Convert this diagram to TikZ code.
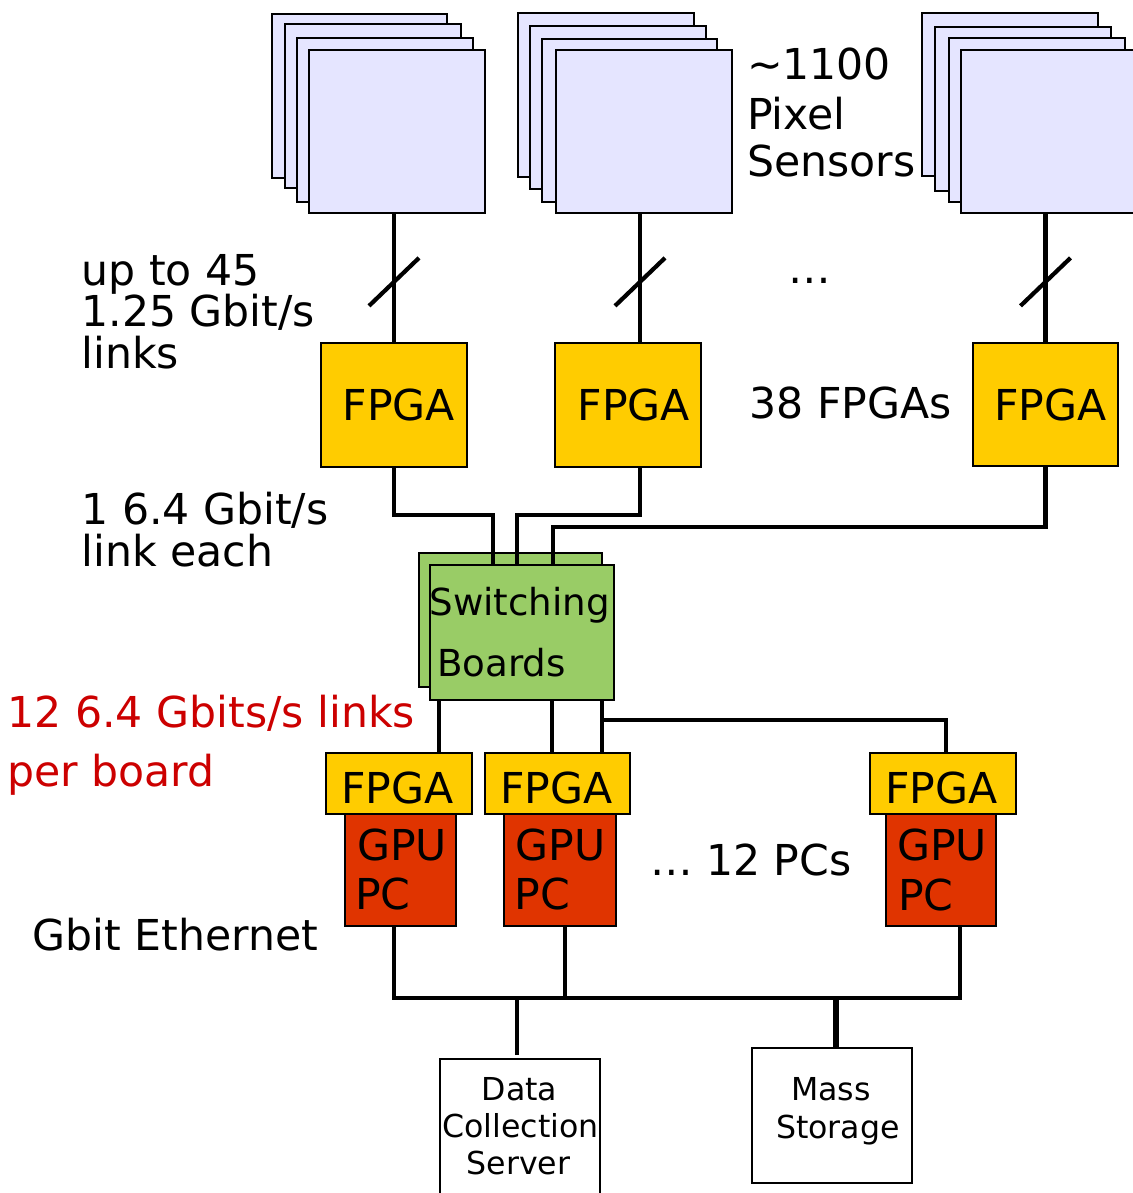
\documentclass[tikz,border=0pt]{standalone}
\usepackage{fontspec}
\setmainfont{DejaVu Sans}
\usetikzlibrary{calc}
\definecolor{sens}{RGB}{229,229,255}
\definecolor{fpgay}{RGB}{255,204,0}
\definecolor{boardg}{RGB}{153,204,102}
\definecolor{gpur}{RGB}{224,52,0}
\definecolor{redtxt}{RGB}{204,0,0}
\newcommand\mybox[6]{\node[#6,minimum width={#4-#2},minimum height={#5-#3}] (#1) at (#2,#3) {};}
\begin{document}
\begin{tikzpicture}[x=1pt,y=-1pt,
  bx/.style={draw, line width=2.3pt, inner sep=0pt, outer sep=0pt, anchor=north west},
  sensor/.style={bx, fill=sens},
  fpga/.style={bx, fill=fpgay},
  board/.style={bx, fill=boardg},
  gpu/.style={bx, fill=gpur},
  plainbox/.style={bx, fill=white},
  conn/.style={line width=4.4pt},
  slashst/.style={line width=4.2pt},
  txt/.style={inner sep=0pt, outer sep=0pt, anchor=base west, font=\fontsize{42.6}{42.6}\selectfont},
  sbtxt/.style={txt, font=\fontsize{37.2}{37.2}\selectfont},
  smtxt/.style={inner sep=0pt, outer sep=0pt, anchor=base, font=\fontsize{31.6}{31.6}\selectfont}]
\useasboundingbox (0,0) rectangle (1132,1193);
\fill[white] (0,0) rectangle (1132,1193);

% sensor stacks
\mybox{s1a}{272}{14}{447}{178}{sensor}
\mybox{s1b}{285}{24}{461}{188}{sensor}
\mybox{s1c}{297}{38}{473}{202}{sensor}
\mybox{s1d}{309}{50}{485}{213}{sensor}
\mybox{s2a}{518}{13}{694}{177}{sensor}
\mybox{s2b}{530}{26}{706}{189}{sensor}
\mybox{s2c}{542}{39}{717}{202}{sensor}
\mybox{s2d}{556}{50}{732}{213}{sensor}
\mybox{s3a}{922}{13}{1098}{176}{sensor}
\mybox{s3b}{935}{27}{1111}{191}{sensor}
\mybox{s3c}{949}{38}{1125}{202}{sensor}
\mybox{s3d}{961}{50}{1137}{213}{sensor}

% upper FPGAs
\mybox{f1}{321}{343}{467}{467}{fpga}
\mybox{f2}{555}{343}{701}{467}{fpga}
\mybox{f3}{973}{343}{1118}{466}{fpga}
\node[txt] (f1t) at (342.5,420) {FPGA};
\node[txt] (f2t) at (577.5,420) {FPGA};
\node[txt] (f3t) at (994,420) {FPGA};

% switching boards
\mybox{sbb}{419}{553}{602}{687}{board}
\mybox{sbf}{430}{565}{614}{700}{board}
\node[sbtxt] (sbt1) at (429.5,615) {Switching};
\node[sbtxt] (sbt2) at (437,676) {Boards};

% lower FPGAs and GPU PCs
\mybox{lf1}{326}{753}{472}{814}{fpga}
\mybox{lf2}{485}{753}{630}{814}{fpga}
\mybox{lf3}{870}{753}{1016}{814}{fpga}
\mybox{g1}{345}{814}{456}{926}{gpu}
\mybox{g2}{504}{814}{616}{926}{gpu}
\mybox{g3}{886}{814}{996}{926}{gpu}
\node[txt] (lf1t) at (341.4,803) {FPGA};
\node[txt] (lf2t) at (500.4,803) {FPGA};
\node[txt] (lf3t) at (885,803) {FPGA};
\node[txt] (g1t) at (357,860) {GPU};
\node[txt] (g1p) at (355,909) {PC};
\node[txt] (g2t) at (515.5,860) {GPU};
\node[txt] (g2p) at (514.7,909) {PC};
\node[txt] (g3t) at (897,860) {GPU};
\node[txt] (g3p) at (898,910) {PC};

% servers
\mybox{dcs}{440}{1059}{600}{1210}{plainbox}
\mybox{ms}{752}{1048}{912}{1183}{plainbox}
\node[smtxt] (dcs1) at (519.5,1100) {Data};
\node[smtxt] (dcs2) at (520.5,1137) {Collection};
\node[smtxt] (dcs3) at (518.5,1174) {Server};
\node[smtxt] (ms1) at (831,1100) {Mass};
\node[smtxt] (ms2) at (838,1138) {Storage};

% sensor -> FPGA links with slash marks
\coordinate (c1) at (f1.north);
\coordinate (c2) at ($(f2.north)+(12,0)$);
\coordinate (c3) at (f3.north);
\draw[conn] (c1) -- (c1 |- s1d.south);
\draw[conn] (c2) -- (c2 |- s2d.south);
\draw[conn] (c3) -- (c3 |- s3d.south);
\coordinate (m1) at ($(c1)!0.47!(c1 |- s1d.south)$);
\coordinate (m2) at ($(c2)!0.47!(c2 |- s2d.south)$);
\coordinate (m3) at ($(c3)!0.47!(c3 |- s3d.south)$);
\draw[slashst] ($(m1)+(-25,24)$) -- ($(m1)+(25,-24)$);
\draw[slashst] ($(m2)+(-25,24)$) -- ($(m2)+(25,-24)$);
\draw[slashst] ($(m3)+(-25,24)$) -- ($(m3)+(25,-24)$);

% FPGA -> switching boards
\draw[conn] (f1.south) -- ++(0,48) -| ($(sbf.north west)+(63,0)$);
\draw[conn] ($(f2.south)+(12,0)$) -- ++(0,48) -| ($(sbf.north west)+(87,0)$);
\draw[conn] (f3.south) -- ++(0,61) -| ($(sbf.north west)+(123,0)$);

% switching boards -> lower FPGAs
\coordinate (d1) at ($(sbf.south west)+(9,0)$);
\coordinate (d2) at ($(sbf.south west)+(122,0)$);
\coordinate (d3) at ($(sbf.south west)+(172,0)$);
\draw[conn] (d1) -- (d1 |- lf1.north);
\draw[conn] (d2) -- (d2 |- lf2.north);
\draw[conn] (d3) -- (d3 |- lf2.north);
\draw[conn] ($(d3)+(0,20)$) -| ($(lf3.north)+(3,0)$);

% Gbit Ethernet bus
\coordinate (e1) at ($(g1.south west)+(49,0)$);
\coordinate (e2) at ($(g2.south west)+(61,0)$);
\coordinate (e3) at ($(g3.south west)+(74,0)$);
\coordinate (bus) at ($(e1)+(0,72)$);
\draw[conn] (e1) -- (bus) -| (e3);
\draw[conn] (e2) -- (e2 |- bus);
\coordinate (dc) at ($(dcs.north)+(-3,-4)$);
\coordinate (mc) at ($(ms.north)+(4,0)$);
\draw[conn] (dc) -- (dc |- bus);
\draw[conn, line width=6pt] (mc) -- (mc |- bus);

% free texts
\node[txt] (l1a) at (747,80) {\textasciitilde1100};
\node[txt] (l1b) at (747,130) {Pixel};
\node[txt] (l1c) at (747,177) {Sensors};
\node[txt] (l2a) at (81.5,285) {up to 45};
\node[txt] (l2b) at (81.5,326) {1.25 Gbit/s};
\node[txt] (l2c) at (81.5,368) {links};
\node[txt] (dots1) at (788,283) {…};
\node[txt] (l3) at (749.5,418) {38 FPGAs};
\node[txt] (l4a) at (81.5,524) {1 6.4 Gbit/s};
\node[txt] (l4b) at (81.5,566) {link each};
\node[txt, text=redtxt] (l5a) at (7.5,727) {12 6.4 Gbits/s links};
\node[txt, text=redtxt] (l5b) at (7.5,786) {per board};
\node[txt] (l6) at (32.5,950) {Gbit Ethernet};
\node[txt] (l7) at (650,875) {… 12 PCs};
\end{tikzpicture}
\end{document}
